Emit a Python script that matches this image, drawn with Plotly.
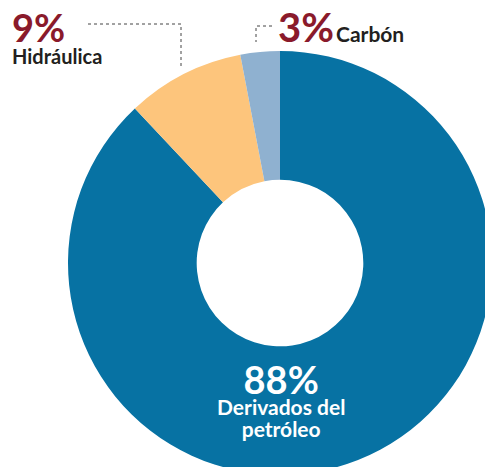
import plotly.graph_objects as go

labels = ["Derivados del petróleo", "Hidráulica", "Carbón"]
values = [88, 9, 3]
colors = ["#0772a3", "#fdc57c", "#8fb1d0"]

W, H = 500, 480

def px(x):
    return x / W

def py(y):
    return 1 - y / H

fig = go.Figure()
fig.add_trace(go.Pie(
    labels=labels, values=values, sort=False, direction="clockwise", rotation=0,
    hole=0.393, marker=dict(colors=colors, line=dict(width=0)),
    textinfo="none", hoverinfo="label+percent", showlegend=False,
    domain=dict(x=[px(68), px(492)], y=[py(475), py(51)]),
))

red = "#8a1a2b"
dark = "#231f20"
fam = "Lato, 'Open Sans', sans-serif"
ann = []
# Hidráulica
ann.append(dict(x=px(10), y=py(36), xanchor="left", yanchor="middle", align="left",
                text=(f"<b><span style='font-size:38px;color:{red}'>{values[1]}%</span><br>"
                      f"<span style='font-size:20px'>{labels[1]}</span></b>"),
                font=dict(family=fam, size=17, color=dark)))
# Carbón
ann.append(dict(x=px(276), y=py(27), text=f"<b>{values[2]}%</b>", xanchor="left", yanchor="middle",
                font=dict(family=fam, size=40, color=red)))
ann.append(dict(x=px(334), y=py(34), text=f"<b>{labels[2]}</b>", xanchor="left", yanchor="middle",
                font=dict(family=fam, size=21, color=dark)))
# Derivados
ann.append(dict(x=px(281), y=py(398), xanchor="center", yanchor="middle", align="center",
                text=(f"<b><span style='font-size:38px'>{values[0]}%</span><br>"
                      "<span style='font-size:21px'>Derivados del</span><br>"
                      "<span style='font-size:21px'>petróleo</span></b>"),
                font=dict(family=fam, size=16.5, color="white")))
for a in ann:
    a.update(showarrow=False, xref="paper", yref="paper")

shapes = [
    dict(type="path", path=f"M {px(88)},{py(24)} L {px(181)},{py(24)} L {px(181)},{py(66)}",
         line=dict(color="#444444", width=1, dash="dot")),
    dict(type="path", path=f"M {px(272)},{py(26)} L {px(256)},{py(26)} L {px(256)},{py(42)}",
         line=dict(color="#444444", width=1, dash="dot")),
]
for s in shapes:
    s.update(xref="paper", yref="paper")

fig.update_layout(width=W, height=H, autosize=False, margin=dict(l=0, r=0, t=0, b=0),
                  paper_bgcolor="white", plot_bgcolor="white", annotations=ann, shapes=shapes)

fig.write_html("out.html", config={"displayModeBar": False},
               post_script="document.body.style.margin='0';document.body.style.overflow='hidden';document.documentElement.style.overflow='hidden';")
